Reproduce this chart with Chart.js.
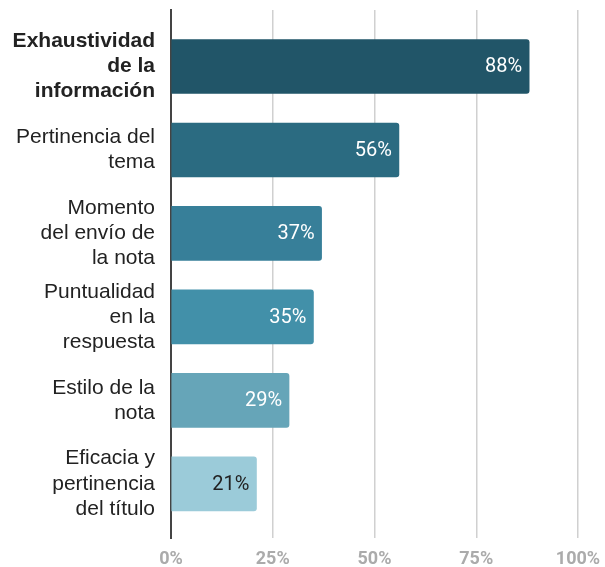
<!DOCTYPE html>
<html>
<head>
<meta charset="utf-8">
<script src="https://cdn.jsdelivr.net/npm/chart.js@4"></script>
<style>
  body { margin: 0; background: #fff; }
</style>
</head>
<body>
<canvas id="chart" width="605" height="567"></canvas>
<script>
const categories = [
  ['Exhaustividad', 'de la', 'información'],
  ['Pertinencia del', 'tema'],
  ['Momento', 'del envío de', 'la nota'],
  ['Puntualidad', 'en la', 'respuesta'],
  ['Estilo de la', 'nota'],
  ['Eficacia y', 'pertinencia', 'del título']
];
const values = [88, 56, 37, 35, 29, 21];
const barColors = ['#215568', '#2b6b81', '#377f99', '#4290a9', '#66a5b8', '#9bcbd9'];
const labelColors = ['#fff', '#fff', '#fff', '#fff', '#fff', '#222'];
const xTicks = [0, 25, 50, 75, 100];

// value labels written inside the end of each bar
const barLabels = {
  id: 'barLabels',
  afterDatasetsDraw(chart) {
    const ctx = chart.ctx;
    const meta = chart.getDatasetMeta(0);
    ctx.save();
    ctx.font = '20px Roboto';
    ctx.textAlign = 'right';
    ctx.textBaseline = 'middle';
    meta.data.forEach((bar, i) => {
      ctx.fillStyle = labelColors[i];
      ctx.fillText(values[i] + '%', bar.x - 7, bar.y + 1);
    });
    ctx.restore();
  }
};

new Chart(document.getElementById('chart').getContext('2d'), {
  type: 'bar',
  data: {
    datasets: [{
      data: values.map((v, i) => ({ x: v, y: i })),
      backgroundColor: barColors,
      borderRadius: 3,
      borderSkipped: 'start',
      barThickness: 54
    }]
  },
  options: {
    indexAxis: 'y',
    responsive: false,
    animation: false,
    layout: { padding: { top: 10, right: 27, bottom: 0, left: 0 } },
    plugins: { legend: { display: false }, tooltip: { enabled: false } },
    scales: {
      x: {
        type: 'linear',
        min: 0,
        max: 100,
        afterBuildTicks: scale => { scale.ticks = xTicks.map(v => ({ value: v })); },
        afterFit: scale => {
          scale.height = 29;
          scale.paddingLeft = 0;
          scale.paddingRight = 0;
        },
        grid: { color: '#d0d0d0', lineWidth: 1.5, drawTicks: false },
        border: { display: false },
        ticks: {
          padding: 11,
          color: '#ababab',
          font: { family: 'Roboto', size: 18, weight: 'bold', lineHeight: 1.2 },
          callback: v => v + '%'
        }
      },
      y: {
        type: 'linear',
        reverse: true,
        offset: false,
        bounds: 'data',
        min: -0.6765,
        max: 5.648,
        afterBuildTicks: scale => { scale.ticks = categories.map((c, i) => ({ value: i })); },
        grid: { display: false },
        border: { display: true, color: '#444', width: 2 },
        afterFit: scale => {
          scale.width = 171;
          scale.paddingTop = 0;
          scale.paddingBottom = 0;
        },
        ticks: {
          autoSkip: false,
          padding: 8,
          color: '#222',
          font: ctx => ({
            family: '"Liberation Sans", Arial, sans-serif',
            size: 21,
            lineHeight: 1.2,
            weight: ctx.tick && ctx.tick.value === 0 ? 'bold' : 'normal'
          }),
          callback: v => categories[v] || ''
        }
      }
    }
  },
  plugins: [barLabels]
});
</script>
</body>
</html>
